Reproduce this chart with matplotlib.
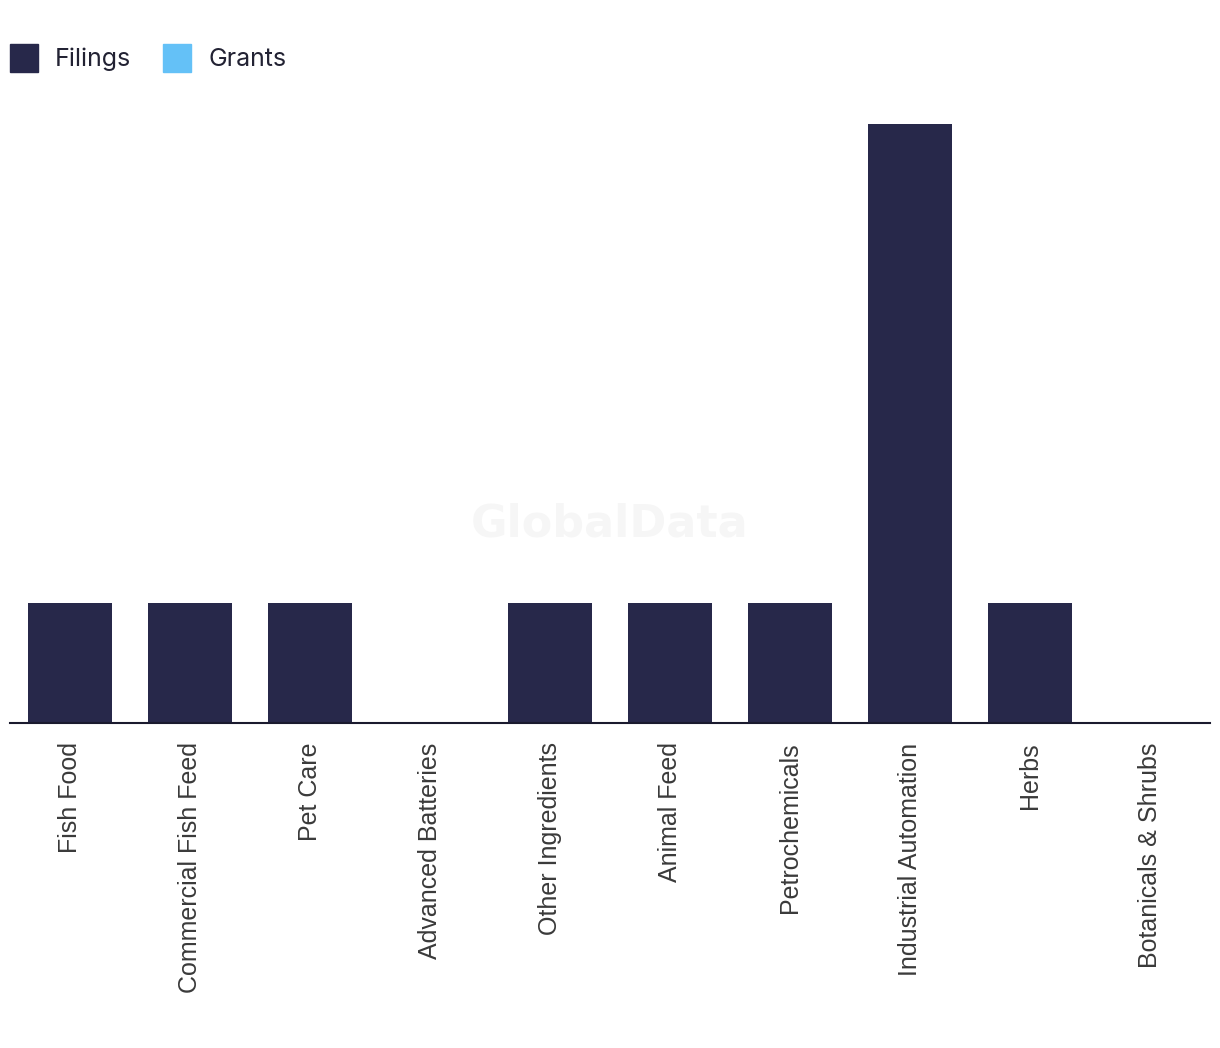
import numpy as np
import matplotlib.pyplot as plt
from matplotlib.patches import Patch

categories = ['Fish Food', 'Commercial Fish Feed', 'Pet Care', 'Advanced Batteries',
              'Other Ingredients', 'Animal Feed', 'Petrochemicals',
              'Industrial Automation', 'Herbs', 'Botanicals & Shrubs']
filings = [1, 1, 1, 0, 1, 1, 1, 5, 1, 0]
grants = [0, 0, 0, 0, 0, 0, 0, 0, 0, 0]

navy = '#27284a'
sky = '#64c1f7'

fig = plt.figure(figsize=(12.2, 10.48), dpi=100)
ax = fig.add_axes([10/1220, 325/1048, 1200/1220, 623/1048])

x = np.arange(len(categories))
ax.bar(x, filings, width=0.7, color=navy)
ax.bar(x, grants, width=0.7, color=sky)

ax.set_xlim(-0.5, len(categories) - 0.5)
ax.set_ylim(0, 623/119.8)
ax.set_xticks(x)
ax.set_xticklabels(categories, rotation=90, fontsize=18, color='#3a3a3a',
                   family=['Liberation Sans', 'DejaVu Sans'])
ax.tick_params(axis='x', length=0, pad=14)
ax.set_yticks([])
for s in ['top', 'right', 'left']:
    ax.spines[s].set_visible(False)
ax.spines['bottom'].set_color('#1a1a2e')
ax.spines['bottom'].set_linewidth(1.5)

# faint watermark
ax.text(0.5, 0.32, 'GlobalData', transform=ax.transAxes, ha='center', va='center',
        fontsize=32, fontweight='bold', color='#f6f6f6', zorder=0)

handles = [Patch(color=navy, label='Filings'), Patch(color=sky, label='Grants')]
fs = 18
fig.legend(handles=handles, loc='upper left', bbox_to_anchor=(10/1220, 1 - 44/1048),
           ncol=2, frameon=False, prop={'family': 'Inter', 'size': fs},
           handlelength=1.12, handleheight=1.346, handletextpad=0.68,
           columnspacing=1.28, borderpad=0, borderaxespad=0, labelcolor='#222233')

fig.savefig('out.png', dpi=100)
